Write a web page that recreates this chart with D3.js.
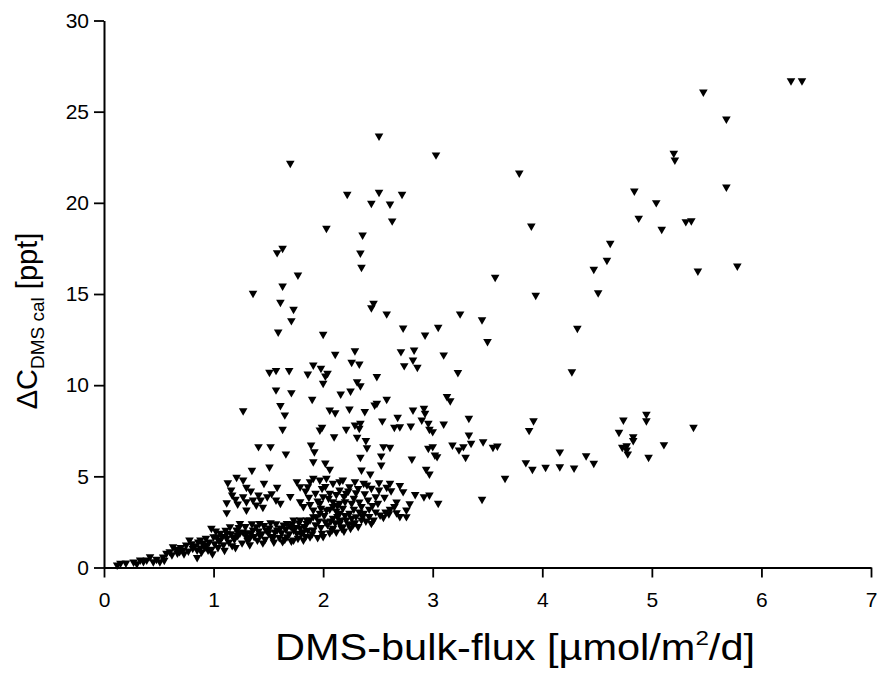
<!DOCTYPE html>
<html>
<head>
<meta charset="utf-8">
<script src="https://cdn.jsdelivr.net/npm/d3@7"></script>
<style>
  body { margin: 0; background: #fff; }
  svg { display: block; font-family: "Liberation Sans", Arial, Helvetica, sans-serif; }
</style>
</head>
<body>
<div id="chart"></div>
<script>
// tick values
var xMajor = [0, 1, 2, 3, 4, 5, 6, 7];
var xMinor = [0.5, 1.5, 2.5, 3.5, 4.5, 5.5, 6.5];
var yMajor = [0, 5, 10, 15, 20, 25, 30];
var yMinor = [2.5, 7.5, 12.5, 17.5, 22.5, 27.5];

// [DMS bulk flux, delta c]
var sparse = [
  [6.27,26.69],[6.37,26.69],[5.47,26.08],[5.68,24.60],[5.20,22.72],[5.21,22.35],[2.51,23.67],[3.03,22.63],
  [1.70,22.17],[3.79,21.64],[4.84,20.65],[5.68,20.87],[2.22,20.47],[2.51,20.58],[2.72,20.47],[2.44,19.98],
  [2.61,19.94],[5.04,20.01],[2.63,19.01],[2.03,18.61],[3.90,18.73],[4.88,19.16],[5.09,18.55],[5.31,18.97],
  [5.36,19.02],[2.36,18.24],[1.63,17.51],[1.58,17.27],[2.34,17.25],[4.62,17.78],[2.35,16.47],[1.77,16.04],
  [3.57,15.92],[4.59,16.85],[4.47,16.36],[5.42,16.26],[5.78,16.54],[1.63,15.44],[1.36,15.04],[3.94,14.93],
  [4.51,15.07],[1.61,14.55],[1.73,14.16],[2.46,14.49],[2.44,14.25],[2.58,13.91],[3.25,13.91],[3.45,13.59],
  [1.71,13.54],[1.59,12.92],[2.00,12.79],[2.73,13.14],[3.05,13.18],[2.93,12.75],[3.50,12.39],[4.32,13.12],
  [2.11,11.70],[2.29,11.89],[2.71,11.84],[2.83,11.93],[3.10,11.66],[2.82,11.38],[2.26,11.26],[2.33,11.16],
  [2.74,11.07],[2.86,10.98],[1.91,11.11],[1.51,10.71],[1.57,10.81],[1.69,10.80],[1.86,10.61],[1.98,10.93],
  [2.04,10.65],[2.02,10.50],[2.00,10.10],[2.49,10.47],[3.23,10.69],[4.27,10.74],[1.57,9.74],[1.71,9.59],
  [2.16,9.52],[2.25,9.68],[2.31,10.19],[2.34,9.97],[1.90,9.23],[2.58,9.23],[3.13,9.38],[3.16,9.15],
  [1.61,8.88],[1.65,8.37],[1.27,8.60],[2.06,8.64],[2.11,8.49],[2.24,8.69],[2.38,8.55],[2.47,8.91],
  [2.49,9.01],[2.82,8.64],[2.92,8.73],[2.93,8.46],[1.99,7.69],[1.97,7.54],[1.63,7.58],[2.21,7.58],
  [2.29,7.82],[2.34,7.91],[2.33,7.64],[2.54,8.04],[2.68,8.24],[2.65,7.69],[2.70,7.72],[2.80,7.76],
  [2.90,8.09],[2.96,7.91],[2.97,7.58],[3.00,7.45],[3.10,7.87],[3.33,8.18],[3.92,8.05],[3.88,7.52],
  [2.10,7.17],[2.31,7.14],[2.39,6.96],[2.40,6.57],[1.89,6.72],[1.92,6.35],[2.55,6.63],[2.61,6.59],
  [2.96,6.54],[3.00,6.63],[3.02,6.17],[3.04,6.08],[3.18,6.72],[3.24,6.45],[3.28,6.63],[3.33,7.27],
  [3.35,6.81],[3.46,6.90],[3.55,6.59],[3.59,6.66],[3.30,6.05],[1.41,6.63],[1.52,6.63],[1.66,6.23],
  [1.91,5.80],[2.02,5.73],[2.06,5.39],[1.35,5.33],[1.51,5.51],[2.34,6.05],[2.53,6.12],[2.53,5.62],
  [2.81,5.95],[2.35,5.35],[2.43,5.13],[2.94,5.39],[2.97,5.13],[3.85,5.75],[3.91,5.39],[4.03,5.50],
  [4.16,5.53],[4.16,6.34],[4.29,5.46],[4.40,6.13],[4.47,5.72],[3.66,4.89],[3.45,3.74],[4.74,8.09],
  [4.95,8.40],[4.95,8.05],[5.38,7.69],[4.70,7.42],[4.83,7.17],[4.83,6.96],[4.73,6.59],[4.77,6.68],
  [4.78,6.23],[4.77,6.45],[5.11,6.74],[4.97,6.05]
];

// upper branch of the dense region (about 3 to 5 ppt)
var cluster = [
  [1.21,4.95],[1.13,4.65],[1.27,4.80],[1.30,4.40],[1.46,4.62],[1.58,4.40],[1.17,3.98],[1.12,3.55],
  [1.12,3.01],[1.22,3.48],[1.27,3.88],[1.30,3.61],[1.30,3.15],[1.41,3.98],[1.43,3.70],[1.39,3.43],
  [1.49,3.88],[1.57,3.70],[1.61,3.52],[1.76,4.71],[1.79,4.43],[1.88,4.71],[1.86,4.43],[1.91,4.89],
  [1.97,4.80],[2.03,4.89],[2.09,4.62],[2.15,4.71],[1.79,3.61],[1.93,4.07],[1.99,4.34],[2.06,4.07],
  [2.15,4.25],[2.21,4.07],[2.09,3.61],[2.15,3.52],[2.20,3.61],[2.18,4.80],[2.24,4.43],[2.29,4.71],
  [2.37,4.62],[2.00,3.88],[2.26,3.52],[2.35,3.34],[1.82,3.34],[1.91,3.15],[1.97,3.52],[2.03,3.15],
  [2.09,3.34],[2.18,3.25],[2.24,2.97],[2.40,4.53],[2.32,4.34],[2.41,3.70],[2.50,3.52],[2.61,3.19],
  [2.65,3.34],[2.76,3.15],[2.76,2.79],[2.51,4.65],[2.61,4.62],[2.62,4.21],[2.73,4.16],[2.51,4.25],
  [2.48,3.88],[2.92,3.88],[2.97,3.98],[3.05,3.52],[2.52,2.88],[2.57,3.04],
  [1.16,4.25],[1.20,3.75],[1.34,4.20],[1.36,3.70],[1.45,3.30],[1.53,4.05],[1.70,3.90],[1.84,4.20],
  [1.87,3.85],[1.95,3.65],[2.02,4.45],[2.05,3.80],[2.12,4.00],[2.13,3.40],[2.19,3.90],[2.23,4.20],
  [2.28,3.80],[2.30,4.10],[2.33,3.60],[2.38,4.05],[2.44,4.35],[2.45,3.40],[2.56,3.85],[2.58,4.40],
  [2.67,3.60],[2.70,4.50],[2.79,3.50],[2.84,4.00],[2.06,3.20],[2.12,3.10],[1.98,3.25],[1.88,3.45],
  [2.28,3.20],[2.42,3.20]
];

// lower band from the origin up to about 3 ppt
var band = [
  [1.85,2.61],[1.94,2.79],[2.02,2.51],[2.09,2.70],[2.15,2.42],[2.30,2.79],[2.37,2.97],[1.82,1.96],
  [1.91,2.06],[1.99,1.88],[2.08,2.06],[2.18,2.24],[1.82,1.51],[1.88,1.69],[2.44,2.42],[2.35,2.61],
  [2.27,2.33],[2.17,2.15],[0.12,0.14],[0.15,0.23],[0.20,0.25],[0.27,0.30],[0.33,0.41],[0.39,0.41],
  [0.42,0.59],[0.45,0.32],[0.51,0.32],[0.54,0.58],[0.57,0.78],[0.60,0.87],[0.63,1.14],[0.66,1.00],
  [0.69,0.87],[0.72,0.96],[0.75,1.23],[0.78,1.51],[0.81,1.05],[0.85,0.96],[0.88,1.51],[0.88,1.07],
  [0.90,1.34],[0.94,1.23],[0.95,0.96],[0.98,2.15],[1.00,1.69],[1.03,1.67],[1.06,1.88],[1.06,1.51],
  [1.12,1.60],[1.12,1.88],[1.15,2.24],[1.18,1.67],[1.21,2.06],[1.24,2.42],[1.24,1.89],[1.30,1.88],
  [1.30,1.69],[1.33,1.62],[1.36,2.06],[1.39,2.24],[1.42,2.42],[1.42,1.78],[1.48,2.06],[1.51,2.17],
  [1.54,1.60],[1.58,2.06],[1.61,2.17],[1.64,2.33],[1.63,1.42],[1.67,1.69],[1.67,2.42],[1.70,2.28],
  [1.73,2.61],[1.73,2.06],[1.73,1.51],[1.76,1.88],[1.79,2.61],[1.79,2.17],[1.85,2.42],[1.91,2.79],
  [1.97,2.97],[2.15,2.97],[2.21,2.61],[2.09,2.15],[0.85,0.55],[0.99,0.75],[1.10,0.95],[1.20,1.10],
  [1.33,1.25],[1.45,1.35],[1.55,1.40],
  [0.30,0.20],[0.36,0.33],[0.48,0.45],[0.55,0.40],[0.62,0.70],[0.67,0.80],[0.70,1.10],[0.73,0.75],
  [0.77,0.90],[0.80,1.30],[0.83,1.20],[0.86,1.40],[0.89,0.85],[0.92,1.10],[0.93,1.60],[0.96,1.40],
  [0.98,1.00],[1.01,1.30],[1.02,2.00],[1.04,1.10],[1.05,1.45],[1.08,1.70],[1.09,1.25],[1.11,2.05],
  [1.14,1.40],[1.16,1.85],[1.17,1.20],[1.19,1.55],[1.22,1.75],[1.23,2.20],[1.26,1.35],[1.27,1.95],
  [1.29,2.25],[1.31,1.50],[1.34,1.90],[1.35,2.40],[1.37,1.70],[1.40,1.50],[1.41,2.00],[1.44,1.85],
  [1.46,2.30],[1.47,1.55],[1.50,1.90],[1.52,2.45],[1.53,1.70],[1.56,1.95],[1.57,2.40],[1.60,1.65],
  [1.62,1.90],[1.65,1.55],[1.66,2.10],[1.69,1.85],[1.71,1.45],[1.72,2.40],[1.75,2.20],[1.77,1.60],
  [1.78,2.45],[1.80,1.85],[1.83,2.25],[1.84,1.70],[1.86,2.05],[1.88,2.60],[1.90,1.85],[1.93,2.35],
  [1.95,1.65],[1.96,2.55],[1.98,2.20],[2.00,1.70],[2.01,2.85],[2.04,2.35],[2.06,1.90],[2.07,2.55],
  [2.11,2.45],[2.12,1.95],[2.13,2.80],[2.16,2.60],[2.19,2.00],[2.20,2.85],[2.23,2.40],[2.25,2.15],
  [2.26,2.70],[2.29,2.45],[2.32,2.25],[2.33,3.05],[2.36,2.80],[2.39,2.55],[2.42,2.80],[2.46,2.60],
  [2.48,3.05],[2.55,2.75],[2.60,2.95],[2.67,3.00],[2.70,2.80]
];

var w = 877, h = 683;

var svg = d3.select('#chart')
  .append('svg')
  .attr('width', w)
  .attr('height', h);

var x = d3.scaleLinear().domain([0, 7]).range([104, 871]);
var y = d3.scaleLinear().domain([0, 30]).range([567.5, 20.5]);

//axes
var gx = svg.append('g').attr('transform', 'translate(0,' + y(0) + ')');
gx.call(d3.axisBottom(x).tickValues(xMinor).tickSize(5).tickSizeOuter(0).tickFormat(''));
gx.call(d3.axisBottom(x).tickValues(xMajor).tickSize(10).tickSizeOuter(0).tickPadding(15).tickFormat(d3.format('d')));

var gy = svg.append('g').attr('transform', 'translate(' + x(0) + ',0)');
gy.call(d3.axisLeft(y).tickValues(yMinor).tickSize(5).tickSizeOuter(0).tickFormat(''));
gy.call(d3.axisLeft(y).tickValues(yMajor).tickSize(10).tickSizeOuter(0).tickPadding(5).tickFormat(d3.format('d')));

svg.selectAll('.domain').attr('stroke', '#000').attr('stroke-width', 2);
svg.selectAll('.tick line').attr('stroke', '#000').attr('stroke-width', 1.8);
svg.selectAll('.tick text')
  .attr('fill', '#000')
  .style('font-size', '21px')
  .style('font-family', '"Liberation Sans", Arial, sans-serif');

//points
var tri = d3.symbol().type(d3.symbolTriangle).size(32);
var all = sparse.concat(cluster, band);
svg.append('g').selectAll('path')
  .data(all)
  .enter()
  .append('path')
    .attr('d', tri)
    .attr('transform', function(d) { return 'translate(' + x(d[0]) + ',' + y(d[1]) + ') rotate(180)'; })
    .attr('fill', '#000');

//axis titles
var xt = svg.append('text')
  .attr('x', 515)
  .attr('y', 660)
  .attr('text-anchor', 'middle')
  .attr('textLength', 480)
  .attr('lengthAdjust', 'spacingAndGlyphs')
  .style('font-size', '36px');
xt.append('tspan').text('DMS-bulk-flux [\u00b5mol/m');
xt.append('tspan').attr('dy', -15).style('font-size', '21px').text('2');
xt.append('tspan').attr('dy', 15).text('/d]');

var yt = svg.append('text')
  .attr('transform', 'translate(37,321) rotate(-90)')
  .attr('text-anchor', 'middle')
  .style('font-size', '29px');
yt.append('tspan').text('\u0394C');
yt.append('tspan').attr('dy', 7).style('font-size', '19px').text('DMS cal');
yt.append('tspan').attr('dy', -7).text(' [ppt]');
</script>
</body>
</html>
